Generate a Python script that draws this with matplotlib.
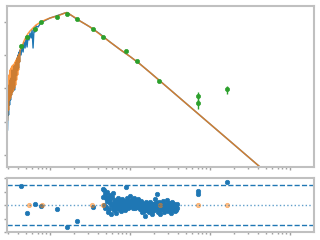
import matplotlib
matplotlib.use("Agg")
import matplotlib.pyplot as plt
from matplotlib.ticker import LogLocator, NullLocator, NullFormatter

# observed spectrum (micron, Jy)
spec_wave = [0.294, 0.299, 0.303, 0.307, 0.312, 0.316, 0.321, 0.326, 0.330, 0.335,
             0.340, 0.345, 0.350, 0.355, 0.360, 0.365, 0.371, 0.376, 0.381, 0.387,
             0.393, 0.398, 0.404, 0.410, 0.416, 0.422,
             0.434, 0.447, 0.460, 0.473, 0.487, 0.501, 0.516, 0.531, 0.546, 0.562,
             0.579, 0.596, 0.613, 0.631, 0.649, 0.668,
             0.708, 0.750, 0.794, 0.841, 0.891, 0.944, 1.00,
             1.09, 1.19, 1.30, 1.41, 1.54, 1.63,
             1.78, 1.94, 2.11, 2.37, 2.74, 3.16, 3.65, 4.22,
             5.62, 7.50, 10.0, 13.3, 17.8, 23.7, 31.6, 75.0, 178, 422, 1000, 1995]
spec_flux = [0.00565, 0.0451, 0.0160, 0.127, 0.0319, 0.180, 0.0451, 0.207, 0.0638, 0.360,
             0.0785, 0.313, 0.104, 0.475, 0.090, 0.509, 0.180, 0.627, 0.255, 0.826,
             0.360, 1.02, 0.414, 1.25, 0.627, 1.44,
             1.02, 2.03, 1.25, 2.50, 1.65, 3.30, 1.77, 3.79, 2.88, 4.67,
             3.30, 5.74, 1.65, 6.61, 5.00, 7.59,
             7.08, 8.71, 10.0, 10.7, 11.5, 12.3, 13.2,
             14.1, 15.1, 16.3, 17.4, 18.7, 19.3,
             16.8, 14.6, 12.7, 10.7, 8.71, 7.08, 5.55, 4.36,
             2.50, 1.49, 0.917, 0.546, 0.303, 0.168, 0.0927, 0.0155, 0.0026,
             4.35e-4, 7.3e-5, 1.75e-5]

# model spectrum
model_wave = [0.294, 0.299, 0.303, 0.307, 0.312, 0.316, 0.321, 0.326, 0.330, 0.335,
              0.340, 0.345, 0.350, 0.355, 0.360, 0.365, 0.371, 0.376, 0.381, 0.387,
              0.393, 0.398, 0.404, 0.410, 0.416, 0.422,
              0.447, 0.473, 0.501, 0.531, 0.562, 0.613, 0.668, 0.750, 0.866, 1.00,
              1.155, 1.334, 1.54, 1.63, 1.78, 2.05, 2.37, 2.74, 3.16, 3.65, 4.22,
              5.62, 7.50, 10.0, 13.3, 17.8, 23.7, 31.6, 75.0, 178, 422, 1000, 1995]
model_flux = [0.0113, 0.090, 0.0225, 0.255, 0.0451, 0.360, 0.0518, 0.414, 0.0638, 0.475,
              0.0785, 0.509, 0.090, 0.546, 0.104, 0.627, 0.127, 0.720, 0.180, 0.826,
              0.255, 0.948, 0.360, 1.09, 0.627, 1.44,
              1.90, 2.69, 3.54, 4.51, 5.36, 6.61, 8.13, 9.66, 11.5, 13.2,
              14.6, 16.3, 18.7, 19.3, 16.8, 13.6, 10.7, 8.71, 7.08, 5.55, 4.21,
              2.50, 1.49, 0.917, 0.546, 0.303, 0.168, 0.0927, 0.0155, 0.0026,
              4.35e-4, 7.3e-5, 1.75e-5]

# photometry
phot_wave = [0.43, 0.52, 0.64, 0.78, 1.23, 1.64, 2.19, 3.40, 4.64, 9.0, 12.3, 22.9,
             71.4, 71.4, 164]
phot_flux = [1.90, 3.42, 6.15, 10.0, 14.6, 17.4, 11.9, 6.07, 3.47, 1.34, 0.66, 0.168,
             0.058, 0.0359, 0.0946]
phot_err = [0.03, 0.05, 0.1, 0.15, 0.2, 0.25, 0.2, 0.1, 0.06, 0.03, 0.015, 0.005,
            0.018, 0.011, 0.024]

# residuals
res_phot_wave = [0.43, 0.52, 0.64, 0.78, 1.23, 1.64, 2.19, 3.40, 9.0, 71.4, 71.4, 164]
res_phot = [2.86, -1.23, 0.1, -0.19, -0.64, -3.2, -2.41, -0.34, 2.7, 2.07, 1.58, 3.36]

res_spec_wave = [4.64, 4.73, 4.87, 5.01, 5.16, 5.31, 5.46, 5.62, 5.79, 5.96, 6.13,
                 6.31, 6.49, 6.68, 6.88, 7.08, 7.29, 7.50, 7.72, 7.94, 8.18,
                 8.41, 8.66, 8.91, 9.17, 9.44, 9.72, 10.0, 10.29, 10.59, 10.90,
                 11.22, 11.55, 11.89, 12.23, 12.59, 12.96, 13.34, 13.73, 14.13, 14.54,
                 14.96, 15.40, 15.85, 16.31, 16.79, 17.28, 17.78, 18.30, 18.84, 19.39,
                 19.95, 20.54, 21.13, 21.75, 22.39, 23.04, 23.71, 24.41, 25.12, 25.85,
                 26.61, 27.38, 28.18, 29.01, 29.85, 30.73, 31.62, 32.54, 33.50, 34.47,
                 35.48, 36.52, 37.58, 38.68]
res_spec = [2.4, 2.3, -0.5, 1.0, 2.0, -1.0, 0.5, 1.5, -1.3, 0.2, 1.8,
            -0.8, 0.8, -1.2, 0.3, 1.1, -0.6, 0.4, -0.9, 0.9, -0.3,
            0.6, -0.7, 0.2, 1.0, -0.4, 0.5, 1.4, -0.2, 0.7, -0.5,
            1.0, 0.1, 0.8, -0.3, 0.9, 0.3, -0.6, 0.6, -1.0, 0.2,
            -0.4, -1.6, 0.4, -0.8, 0.1, -1.1, 0.5, -0.5, -1.3, 0.2,
            -0.7, 0.9, -0.2, 1.7, -1.0, 0.4, -1.4, 0.1, -0.6, 0.6,
            -1.0, 0.0, -0.5, 0.8, -0.9, 0.3, -0.3, -1.2, 0.5, -0.6,
            0.2, -0.9, 0.0, -0.4]
res_spec_b = [1.2, 0.0, 1.6, -0.3, 0.6, 1.2, -0.6, 0.9, 0.0, 1.2, -0.4,
              0.4, -0.2, 0.5, -0.4, 0.2, 0.6, -0.2, 0.3, -0.5, 0.4,
              -0.2, 0.3, -0.4, 0.4, 0.1, -0.3, 0.6, 0.3, -0.1, 0.4,
              0.4, -0.4, 0.3, 0.5, -0.1, -0.2, 0.1, -0.3, 0.3, -0.7,
              -0.9, 0.0, -0.3, -0.5, -0.6, -0.2, -0.8, 0.1, -0.4, -0.8,
              0.1, -0.4, 0.3, -0.6, 0.2, -0.9, -0.5, -0.3, 0.1, -0.5,
              -0.4, -0.7, 0.2, -0.3, -0.6, -0.1, -0.8, -0.5, -0.2, 0.0,
              -0.5, -0.4, -0.8, 0.1]

zero_wave = [0.55, 0.80, 3.38, 4.64, 23.7, 71.4, 164]
zero_res = [0, 0, 0, 0, 0, 0, 0]

grey = "#c0c0c0"

fig = plt.figure(figsize=(3.2, 2.4), dpi=100)
ax = fig.add_axes([0.0228, 0.3042, 0.9584, 0.6708])
axr = fig.add_axes([0.0228, 0.0333, 0.9584, 0.2263])

ax.plot(spec_wave, spec_flux, color="C0", lw=1)
ax.plot(model_wave, model_flux, color="C1", lw=1.1, alpha=0.78)
ax.errorbar(phot_wave, phot_flux, yerr=phot_err, fmt="o", color="C2", ms=3,
            mew=0.5, elinewidth=1, capsize=0)
ax.set_xscale("log")
ax.set_yscale("log")
ax.set_xlim(0.292, 1995)
ax.set_ylim(4.35e-4, 30.3)

axr.plot(res_spec_wave, res_spec, "o", color="C0", ms=3.2, mew=0.5)
axr.plot(res_spec_wave, res_spec_b, "o", color="C0", ms=3.2, mew=0.5)
axr.plot(res_phot_wave, res_phot, "o", color="C0", ms=3.2, mew=0.5)
axr.plot(zero_wave, zero_res, "o", color="C1", ms=3.2, mew=0.5, alpha=0.5)
axr.axhline(3, color="C0", ls="--", lw=1)
axr.axhline(-3, color="C0", ls="--", lw=1)
axr.axhline(0, color="C0", ls=":", lw=1, alpha=0.7)
axr.set_xscale("log")
axr.set_xlim(0.292, 1995)
axr.set_ylim(-4, 4.05)
axr.set_yticks([-4, -2, 0, 2, 4])

for a in (ax, axr):
    for s in a.spines.values():
        s.set_color(grey)
        s.set_linewidth(1.5)
    a.tick_params(which="major", length=2, width=1, color="#a0a0a0",
                  labelbottom=False, labelleft=False)
    a.tick_params(which="minor", length=1.2, width=1, color="#a0a0a0")
    a.xaxis.set_minor_formatter(NullFormatter())
ax.yaxis.set_major_locator(LogLocator(base=10, numticks=20))
ax.yaxis.set_minor_locator(NullLocator())

fig.savefig("out.png", dpi=100)
